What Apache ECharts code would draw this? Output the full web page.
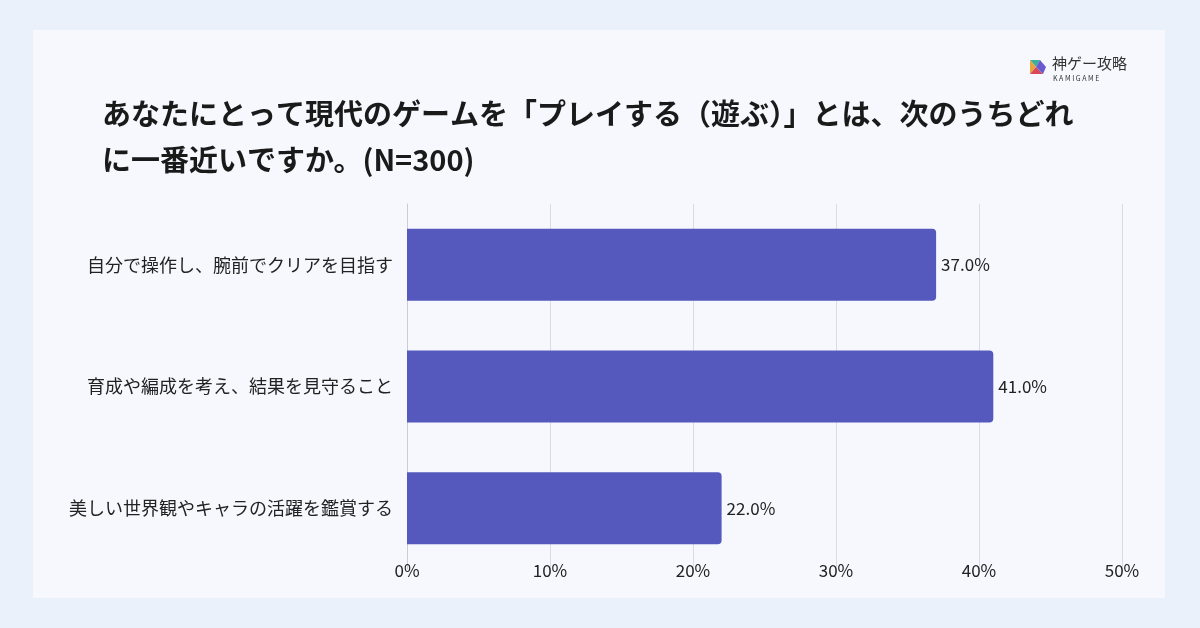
<!DOCTYPE html>
<html><head><meta charset="utf-8">
<script src="https://cdn.jsdelivr.net/npm/echarts@6/dist/echarts.min.js"></script>
<style>html,body{margin:0;padding:0;background:#eaf1fa;}#c{width:1200px;height:628px;}</style>
</head><body><div id="c"></div>
<script>
// 回答の選択肢と割合(%)
var categories = ['自分で操作し、腕前でクリアを目指す', '育成や編成を考え、結果を見守ること', '美しい世界観やキャラの活躍を鑑賞する'];
var values = [37.0, 41.0, 22.0];
var titleText = 'あなたにとって現代のゲームを「プレイする（遊ぶ）」とは、次のうちどれ\nに一番近いですか。(N=300)';
var font = '"Noto Sans CJK JP", "Noto Sans", sans-serif';

var myChart = echarts.init(document.getElementById('c'));
var option = {
	backgroundColor: '#eaf1fa',
	textStyle: {fontFamily: font},
	title: {
		text: titleText,
		left: 97, top: 86,
		textStyle: {fontSize: 29, fontWeight: 'bold', color: '#1a1a1a', lineHeight: 46, fontFamily: font}
	},
	graphic: [
		{type: 'rect', z: -1, shape: {x: 33, y: 30, width: 1132, height: 568}, style: {fill: '#f6f8fe'}},
		{type: 'polygon', shape: {points: [[1030,60],[1040,60],[1036,67]]}, style: {fill: '#3bb0a0'}},
		{type: 'polygon', shape: {points: [[1030,60],[1036,67],[1030,74]]}, style: {fill: '#e8a33a'}},
		{type: 'polygon', shape: {points: [[1030,74],[1036,67],[1043,74]]}, style: {fill: '#d9485a'}},
		{type: 'polygon', shape: {points: [[1036,67],[1040,60],[1046,67],[1043,74]]}, style: {fill: '#6a5acd'}},
		{type: 'text', left: 1052, top: 56, style: {text: '神ゲー攻略', font: '15px ' + font, fill: '#333'}},
		{type: 'text', left: 1053, top: 75, style: {text: 'K A M I G A M E', font: '7px ' + font, fill: '#333'}}
	],
	grid: {left: 407, right: 78, top: 204, bottom: 59, containLabel: false},
	xAxis: {
		type: 'value', min: 0, max: 50, interval: 10,
		axisLabel: {formatter: '{value}%', fontSize: 17, color: '#222', margin: -7},
		axisLine: {show: false}, axisTick: {show: false},
		splitLine: {lineStyle: {color: '#d8dce6'}}
	},
	yAxis: {
		type: 'category', inverse: true, data: categories,
		axisLabel: {fontSize: 18, color: '#222', margin: 14},
		axisLine: {lineStyle: {color: '#c8ccd6'}}, axisTick: {show: false}
	},
	series: [{
		type: 'bar', data: values, barWidth: 72,
		itemStyle: {color: '#5558bd', borderRadius: [0, 4, 4, 0]},
		label: {show: true, position: 'right', formatter: function (p) { return p.value.toFixed(1) + '%'; }, fontSize: 17, color: '#222', distance: 5}
	}]
};
myChart.setOption(option);
</script></body></html>
